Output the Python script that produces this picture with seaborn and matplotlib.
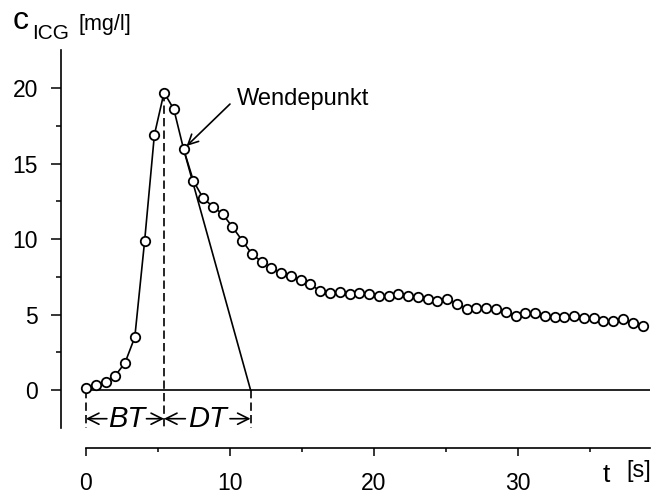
import matplotlib
matplotlib.use("Agg")
import matplotlib.pyplot as plt
import seaborn as sns
import pandas as pd

# ---- data ----
time_s = [0.00, 0.68, 1.36, 2.03, 2.71, 3.39, 4.07, 4.75, 5.42, 6.10,
          6.78, 7.46, 8.14, 8.81, 9.49, 10.17, 10.85, 11.53, 12.20, 12.88,
          13.56, 14.24, 14.92, 15.59, 16.27, 16.95, 17.63, 18.31, 18.98, 19.66,
          20.34, 21.02, 21.70, 22.37, 23.05, 23.73, 24.41, 25.09, 25.76, 26.44,
          27.12, 27.80, 28.48, 29.15, 29.83, 30.51, 31.19, 31.87, 32.54, 33.22,
          33.90, 34.58, 35.26, 35.93, 36.61, 37.29, 37.97, 38.65]
conc = [0.15, 0.33, 0.50, 0.95, 1.80, 3.50, 9.85, 16.90, 19.70, 18.60,
        15.95, 13.85, 12.70, 12.15, 11.65, 10.80, 9.90, 9.00, 8.50, 8.05,
        7.75, 7.55, 7.30, 7.00, 6.55, 6.45, 6.47, 6.36, 6.40, 6.36,
        6.25, 6.25, 6.36, 6.25, 6.14, 6.03, 5.90, 6.00, 5.72, 5.39,
        5.45, 5.45, 5.39, 5.17, 4.92, 5.12, 5.08, 4.92, 4.83, 4.81,
        4.90, 4.77, 4.74, 4.55, 4.55, 4.72, 4.41, 4.21]
peak_idx = 8          # maximum of the curve
inflect_idx = 10      # Wendepunkt
tangent_zero = 11.43  # where the inflection tangent hits c = 0
x_ticks = [0, 10, 20, 30]
y_ticks = [0, 5, 10, 15, 20]

df = pd.DataFrame({"t": time_s, "c": conc})

sns.set_style("ticks")
plt.rcParams["font.family"] = ["Liberation Sans", "DejaVu Sans"]
plt.rcParams["text.color"] = "black"
plt.rcParams["xtick.color"] = "black"
plt.rcParams["ytick.color"] = "black"
plt.rcParams["axes.edgecolor"] = "black"

W, H = 651, 494
fig = plt.figure(figsize=(W / 100, H / 100), dpi=100)
ax = fig.add_axes([60.5 / W, (H - 448) / H, (650 - 60.5) / W, (448 - 50) / H])

xmin, xmax = -1.77, 39.17
ymin, ymax = -3.84, 22.52

# curve with markers
sns.lineplot(data=df, x="t", y="c", ax=ax, color="black", linewidth=1.2,
             marker="o", markersize=6.8, markerfacecolor="white",
             markeredgecolor="black", markeredgewidth=1.3, zorder=3)

# zero line
ax.plot([0, xmax], [0, 0], color="black", lw=1.2, zorder=2)

# tangent at inflection point
tw, cw = time_s[inflect_idx], conc[inflect_idx]
ax.plot([tw, tangent_zero], [cw, 0], color="black", lw=1.2, zorder=2)

# dashed verticals
dash_bottom = -2.5
dash = (0, (5, 2.5))
tp, cp = time_s[peak_idx], conc[peak_idx]
ax.plot([0, 0], [0, dash_bottom], color="black", lw=1.2, ls=dash)
ax.plot([tp, tp], [cp, dash_bottom], color="black", lw=1.2, ls=dash)
ax.plot([tangent_zero, tangent_zero], [0, dash_bottom], color="black", lw=1.2, ls=dash)

# BT / DT arrows
arr_y = -1.9
ap = dict(arrowstyle="->", color="black", lw=1.2, shrinkA=0, shrinkB=0,
          mutation_scale=20)
ax.annotate("", xy=(0, arr_y), xytext=(1.45, arr_y), arrowprops=ap)
ax.annotate("", xy=(tp, arr_y), xytext=(4.2, arr_y), arrowprops=ap)
ax.annotate("", xy=(tp, arr_y), xytext=(6.9, arr_y), arrowprops=ap)
ax.annotate("", xy=(tangent_zero, arr_y), xytext=(10.0, arr_y), arrowprops=ap)
ax.text(2.85, arr_y, "BT", style="italic", fontsize=21, ha="center", va="center")
ax.text(8.45, arr_y, "DT", style="italic", fontsize=21, ha="center", va="center")

# Wendepunkt annotation
ax.annotate("", xy=(6.99, 16.16), xytext=(10.0, 18.94),
            arrowprops=dict(arrowstyle="->", color="black", lw=1.2,
                            shrinkA=0, shrinkB=0, mutation_scale=18))
ax.text(10.45, 18.87, "Wendepunkt", fontsize=17, ha="left", va="baseline")

# axes styling
ax.set_xlim(xmin, xmax)
ax.set_ylim(ymin, ymax)
for s in ["top", "right"]:
    ax.spines[s].set_visible(False)
ax.spines["left"].set_bounds(-2.5, 22.5)
ax.spines["bottom"].set_bounds(0, xmax)
for s in ["left", "bottom"]:
    ax.spines[s].set_linewidth(1.2)
    ax.spines[s].set_color("black")

ax.set_xticks(x_ticks)
ax.set_xticks([5, 15, 25, 35], minor=True)
ax.set_yticks(y_ticks)
ax.set_yticks([2.5, 7.5, 12.5, 17.5], minor=True)
ax.tick_params(axis="y", which="major", length=7.2, width=1.1, pad=9, labelsize=16.5)
ax.tick_params(axis="y", which="minor", length=3.6, width=1.1)
ax.tick_params(axis="x", which="major", length=6, width=1.1, pad=11, labelsize=16.5)
ax.tick_params(axis="x", which="minor", length=2.8, width=1.1)
ax.set_xlabel("")
ax.set_ylabel("")

# axis labels
def ftxt(x, y, s, **kw):
    fig.text(x / W, 1 - y / H, s, va="baseline", ha="left", **kw)

ftxt(13, 29, "c", fontsize=23)
ftxt(32, 39, "ICG", fontsize=15)
ftxt(79, 30, "[mg/l]", fontsize=15.5)
ftxt(603, 482, "t", fontsize=19)
ftxt(626, 477, "[s]", fontsize=17)

fig.savefig("out.png", dpi=100)
